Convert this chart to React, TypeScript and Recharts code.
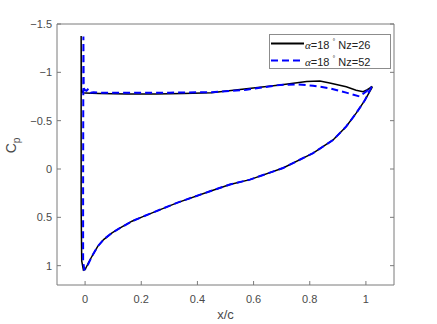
import React from 'react'
import { LineChart, Line, XAxis, YAxis, Legend } from 'recharts'

// x/c ticks and Cp ticks (Cp axis is reversed, suction on top)
const xTicks = [0, 0.2, 0.4, 0.6, 0.8, 1]
const cpTicks = [-1.5, -1, -0.5, 0, 0.5, 1]

// Nz=26: trailing edge -> lower surface -> leading edge spike -> upper surface -> trailing edge
const nz26X = [
  1.023, 0.996, 0.966, 0.93, 0.883, 0.812, 0.705, 0.587, 0.516, 0.445, 0.327, 0.208, 0.167, 0.125,
  0.096, 0.066, 0.045, 0.025, 0.012, 0.0, -0.006, -0.012, -0.014, -0.014, -0.013, -0.008, 0.0, 0.05,
  0.15, 0.25, 0.35, 0.45, 0.575, 0.694, 0.789, 0.836, 0.871, 0.93, 0.965, 0.99, 1.005, 1.023,
]
const nz26Cp = [
  -0.85, -0.71, -0.58, -0.44, -0.3, -0.165, -0.01, 0.11, 0.16, 0.23, 0.35, 0.49, 0.54, 0.61,
  0.66, 0.73, 0.8, 0.9, 0.97, 1.04, 1.045, 0.95, 0.4, -1.375, -0.82, -0.79, -0.785, -0.78,
  -0.775, -0.775, -0.78, -0.79, -0.83, -0.87, -0.905, -0.91, -0.89, -0.85, -0.815, -0.8, -0.82, -0.855,
]

// Nz=52
const nz52X = [
  1.02, 0.996, 0.966, 0.93, 0.883, 0.812, 0.705, 0.587, 0.516, 0.445, 0.327, 0.208, 0.167, 0.125,
  0.096, 0.066, 0.045, 0.025, 0.01, 0.0, -0.003, -0.007, -0.007, -0.006, -0.005, -0.003, 0.005,
  0.012, 0.02, 0.03, 0.05, 0.15, 0.3, 0.45, 0.575, 0.694, 0.753, 0.812, 0.871, 0.93, 0.978, 1.0, 1.02,
]
const nz52Cp = [
  -0.85, -0.71, -0.58, -0.44, -0.3, -0.165, -0.01, 0.11, 0.16, 0.23, 0.35, 0.49, 0.54, 0.61,
  0.66, 0.73, 0.8, 0.9, 0.99, 1.035, 1.04, 0.95, 0.2, -1.37, -0.9, -0.82, -0.81,
  -0.83, -0.79, -0.795, -0.79, -0.79, -0.79, -0.795, -0.82, -0.87, -0.876, -0.862, -0.835, -0.79, -0.75, -0.8, -0.85,
]

const nz26 = nz26X.map((x, i) => ({ x, cp: nz26Cp[i] }))
const nz52 = nz52X.map((x, i) => ({ x, cp: nz52Cp[i] }))

const FONT = '"Liberation Sans", Arial, sans-serif'
const AXIS = '#7a7a7a'
const TEXT = '#4a4a4a'
const TICK = 4

const fmt = (v: number) => (v < 0 ? '\u2212' + Math.abs(v) : String(v))

// MATLAB-style ticks: short marks pointing into the box
const BottomTick = ({ x, y, payload }: any) => (
  <g>
    <line x1={x} x2={x} y1={y} y2={y - TICK} stroke={AXIS} />
    <text x={x} y={y + 18} textAnchor="middle" fontFamily={FONT} fontSize={11} fill={TEXT}>
      {fmt(payload.value)}
    </text>
  </g>
)
const TopTick = ({ x, y }: any) => <line x1={x} x2={x} y1={y} y2={y + TICK} stroke={AXIS} />
const LeftTick = ({ x, y, payload }: any) => (
  <g>
    <line x1={x} x2={x + TICK} y1={y} y2={y} stroke={AXIS} />
    <text x={x - 5} y={y + 4} textAnchor="end" fontFamily={FONT} fontSize={11} fill={TEXT}>
      {fmt(payload.value)}
    </text>
  </g>
)
const RightTick = ({ x, y }: any) => <line x1={x} x2={x - TICK} y1={y} y2={y} stroke={AXIS} />

const LegendRow = ({ color, dash, nz }: { color: string; dash?: string; nz: number }) => (
  <div style={{ display: 'flex', alignItems: 'center', height: 17 }}>
    <svg width={35} height={17} style={{ display: 'block' }}>
      <line x1={1} x2={34} y1={8.5} y2={8.5} stroke={color} strokeWidth={2} strokeDasharray={dash} />
    </svg>
    <span style={{ whiteSpace: 'nowrap' }}>
      <span style={{ fontFamily: '"Liberation Serif", serif', fontStyle: 'italic' }}>α</span>=18
      <sup style={{ fontSize: 7, marginLeft: 3 }}>°</sup> Nz={nz}
    </span>
  </div>
)

const LegendBox = () => (
  <div
    style={{
      width: 122,
      height: 35,
      boxSizing: 'border-box',
      border: '1px solid #8c8c8c',
      background: '#fff',
      fontFamily: FONT,
      fontSize: 11,
      color: '#222',
      lineHeight: '17px',
    }}
  >
    <LegendRow color="#000" nz={26} />
    <LegendRow color="#0000ff" dash="7 4" nz={52} />
  </div>
)

const CpLabel = (props: any) => {
  const { viewBox } = props
  const cx = viewBox.x + 16
  const cy = viewBox.y + viewBox.height / 2 - 9
  return (
    <text
      x={cx}
      y={cy}
      transform={`rotate(-90, ${cx}, ${cy})`}
      textAnchor="middle"
      fontFamily={FONT}
      fontSize={14}
      fill={TEXT}
    >
      C<tspan dy={4} fontSize={10}>p</tspan>
    </text>
  )
}

const XcLabel = (props: any) => {
  const { viewBox } = props
  return (
    <text
      x={viewBox.x + viewBox.width / 2}
      y={viewBox.y + 34}
      textAnchor="middle"
      fontFamily={FONT}
      fontSize={13}
      fill={TEXT}
    >
      x/c
    </text>
  )
}

export default function App() {
  return (
    <div style={{ position: 'absolute', left: 0, top: 0, width: 437, height: 324, background: '#fff' }}>
      <LineChart width={437} height={324} margin={{ top: 23, right: 42, bottom: 0, left: 0 }}>
        <XAxis
          dataKey="x"
          type="number"
          domain={[-0.1, 1.1]}
          ticks={xTicks}
          allowDataOverflow
          height={39}
          tickSize={0}
          tickMargin={0}
          tickLine={false}
          stroke={AXIS}
          tick={<BottomTick />}
          label={<XcLabel />}
        />
        <XAxis
          xAxisId="top"
          orientation="top"
          type="number"
          domain={[-0.1, 1.1]}
          ticks={xTicks}
          allowDataOverflow
          height={1}
          tickSize={0}
          tickMargin={0}
          tickLine={false}
          stroke={AXIS}
          tick={<TopTick />}
        />
        <YAxis
          dataKey="cp"
          type="number"
          reversed
          domain={[-1.5, 1.2]}
          ticks={cpTicks}
          allowDataOverflow
          width={57}
          tickSize={0}
          tickMargin={0}
          tickLine={false}
          stroke={AXIS}
          tick={<LeftTick />}
          label={<CpLabel />}
        />
        <YAxis
          yAxisId="right"
          orientation="right"
          type="number"
          reversed
          domain={[-1.5, 1.2]}
          ticks={cpTicks}
          allowDataOverflow
          width={1}
          tickSize={0}
          tickMargin={0}
          tickLine={false}
          stroke={AXIS}
          tick={<RightTick />}
        />
        <Legend
          layout="vertical"
          align="center"
          verticalAlign="middle"
          content={<LegendBox />}
          wrapperStyle={{ left: 269, top: 34, width: 122, height: 35 }}
        />
        <Line
          data={nz26}
          dataKey="cp"
          name="α=18° Nz=26"
          type="linear"
          stroke="#000"
          strokeWidth={1.5}
          dot={false}
          isAnimationActive={false}
        />
        <Line
          data={nz52}
          dataKey="cp"
          name="α=18° Nz=52"
          type="linear"
          stroke="#0000ff"
          strokeWidth={2}
          strokeDasharray="7 4"
          dot={false}
          isAnimationActive={false}
        />
      </LineChart>
    </div>
  )
}
